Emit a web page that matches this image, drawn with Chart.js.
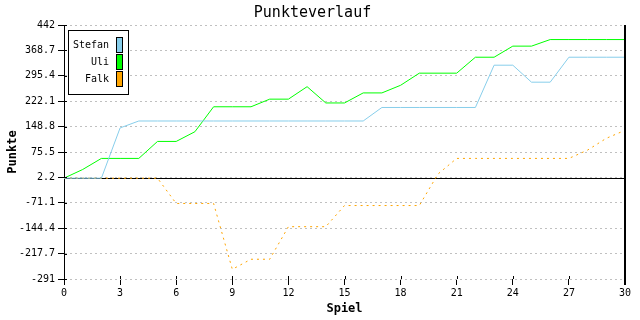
<!DOCTYPE html>
<html>
<head>
<meta charset="utf-8">
<script src="https://cdn.jsdelivr.net/npm/chart.js@4.4.1/dist/chart.umd.min.js"></script>
<style>
  html, body { margin: 0; padding: 0; background: #fff; }
</style>
</head>
<body>
<canvas id="chart" width="640" height="320"></canvas>
<script>
// Data
const games = [0,1,2,3,4,5,6,7,8,9,10,11,12,13,14,15,16,17,18,19,20,21,22,23,24,25,26,27,28,29,30];
const stefan = [0,0,0,145,165,165,165,165,165,165,165,165,165,165,165,165,165,204,204,204,204,204,204,326,326,277,277,349,349,349,349];
const uli = [0,25,57,57,57,106,106,134,206,206,206,228,228,264,217,217,246,246,268,303,303,303,349,349,381,381,400,400,400,400,400];
const falk = [0,0,0,0,0,0,-73,-73,-73,-263,-234,-234,-140,-140,-140,-79,-79,-79,-79,-79,12,57,57,57,57,57,57,57,81,115,138];
const seriesNames = ["Stefan", "Uli", "Falk"];
const yTicks = [-291, -217.7, -144.4, -71.1, 2.2, 75.5, 148.8, 222.1, 295.4, 368.7, 442];
const xTicks = [0, 3, 6, 9, 12, 15, 18, 21, 24, 27, 30];

const MONO = "'DejaVu Sans Mono', 'Liberation Mono', monospace";

function pts(arr){ return games.map((g, i) => ({x: g, y: arr[i]})); }

// black zero line under the series
const zeroLine = {
  id: "zeroLine",
  beforeDatasetsDraw(chart){
    const {ctx, chartArea, scales} = chart;
    const y = Math.round(scales.y.getPixelForValue(0)) + 0.5;
    ctx.save();
    ctx.strokeStyle = "#000";
    ctx.lineWidth = 1;
    ctx.beginPath();
    ctx.moveTo(chartArea.left, y);
    ctx.lineTo(chartArea.right, y);
    ctx.stroke();
    ctx.restore();
  }
};

// right frame line, small inner tick stubs, boxed legend
const frameAndLegend = {
  id: "frameAndLegend",
  afterDraw(chart){
    const {ctx, chartArea, scales} = chart;
    ctx.save();
    ctx.strokeStyle = "#000";
    ctx.lineWidth = 2;
    ctx.beginPath();
    ctx.moveTo(chartArea.right, chartArea.top);
    ctx.lineTo(chartArea.right, chartArea.bottom + 6);
    ctx.stroke();

    // tick marks poke a little into the plot
    ctx.lineWidth = 1;
    ctx.beginPath();
    yTicks.forEach(v => {
      const y = Math.round(scales.y.getPixelForValue(v)) + 0.5;
      ctx.moveTo(chartArea.left, y);
      ctx.lineTo(chartArea.left + 3, y);
    });
    xTicks.forEach(v => {
      const x = Math.round(scales.x.getPixelForValue(v)) + 0.5;
      ctx.moveTo(x, chartArea.bottom);
      ctx.lineTo(x, chartArea.bottom - 3);
    });
    ctx.stroke();

    // legend box
    ctx.fillStyle = "#fff";
    ctx.fillRect(68.5, 30.5, 60, 64);
    ctx.strokeRect(68.5, 30.5, 60, 64);
    ctx.font = "10px " + MONO;
    ctx.textAlign = "right";
    ctx.textBaseline = "middle";
    chart.data.datasets.forEach((ds, i) => {
      const cy = 45 + i * 17;
      ctx.fillStyle = "#000";
      ctx.fillText(ds.label, 109, cy);
      ctx.fillStyle = ds.borderColor;
      ctx.fillRect(116.5, cy - 7.5, 6, 15);
      ctx.strokeRect(116.5, cy - 7.5, 6, 15);
    });
    ctx.restore();
  }
};

new Chart(document.getElementById("chart"), {
  type: "line",
  data: {
    datasets: [
      {label: seriesNames[0], data: pts(stefan), borderColor: "#87ceeb", backgroundColor: "#87ceeb", borderWidth: 1},
      {label: seriesNames[1], data: pts(uli), borderColor: "#00ff00", backgroundColor: "#00ff00", borderWidth: 1},
      {label: seriesNames[2], data: pts(falk), borderColor: "#ffa500", backgroundColor: "#ffa500", borderWidth: 1, borderDash: [2, 4]}
    ]
  },
  options: {
    responsive: false,
    animation: false,
    events: [],
    elements: {point: {radius: 0}, line: {tension: 0}},
    layout: {padding: {left: 0, right: 15, top: 0, bottom: 0}},
    plugins: {
      legend: {display: false},
      tooltip: {enabled: false},
      title: {
        display: true,
        text: "Punkteverlauf",
        color: "#000",
        font: {family: MONO, size: 15, weight: "normal"},
        padding: {top: 4, bottom: 3}
      }
    },
    scales: {
      x: {
        type: "linear",
        min: 0, max: 30,
        afterBuildTicks: s => { s.ticks = xTicks.map(v => ({value: v})); },
        ticks: {color: "#000", font: {family: MONO, size: 10}, padding: 2, maxRotation: 0},
        grid: {drawOnChartArea: false, tickColor: "#000", tickLength: 6},
        border: {display: false},
        title: {display: true, text: "Spiel", color: "#000", font: {family: MONO, size: 12, weight: "bold"}, padding: {top: 0, bottom: 4}},
        afterFit: s => { s.height = 41; }
      },
      y: {
        min: -291, max: 442,
        afterBuildTicks: s => { s.ticks = yTicks.map(v => ({value: v})); },
        ticks: {color: "#000", font: {family: MONO, size: 10}, padding: 3, callback: v => String(v)},
        grid: {color: "#c0c0c0", tickColor: "#000", tickLength: 6, tickBorderDash: []},
        border: {display: true, color: "#000", dash: [2, 3]},
        title: {display: true, text: "Punkte", color: "#000", font: {family: MONO, size: 12, weight: "bold"}, padding: {top: 6, bottom: 0}},
        afterFit: s => { s.width = 64; }
      }
    }
  },
  plugins: [zeroLine, frameAndLegend]
});
</script>
</body>
</html>
